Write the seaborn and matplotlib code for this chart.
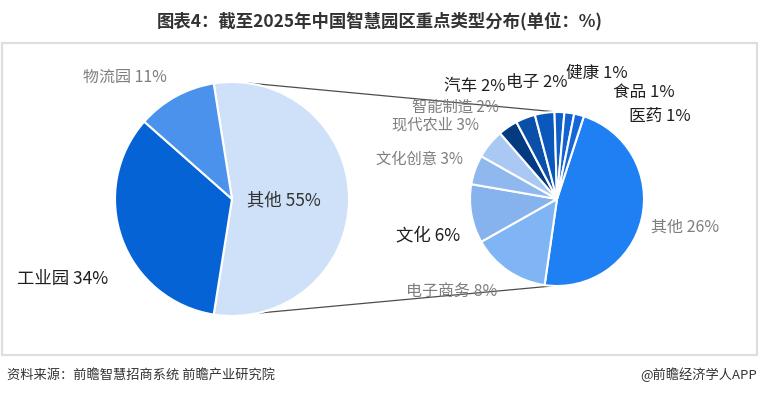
import numpy as np
import matplotlib
matplotlib.use("Agg")
import matplotlib.pyplot as plt
from matplotlib.patches import Rectangle
import seaborn as sns

# main pie: park types
main_labels = ["其他", "工业园", "物流园"]
main_values = [55, 34, 11]
main_colors = ["#cfe1f8", "#0563d6", "#4a92ec"]

# breakdown of "其他"
sub_labels = ["其他", "电子商务", "文化", "文化创意", "现代农业", "智能制造",
              "汽车", "电子", "健康", "食品", "医药"]
sub_values = [26, 8, 6, 3, 3, 2, 2, 2, 1, 1, 1]
sub_colors = ["#1f80f4", "#80b5f5", "#86b2ee", "#8fb8ee", "#a9c9f4", "#043a80",
              "#0a4fa8", "#0b58bd", "#0f5fcb", "#1163d1", "#1567d8"]

sns.set_theme(style="white")
plt.rcParams["font.family"] = ["Noto Sans CJK SC", "DejaVu Sans"]

W, H = 760, 396
fig = plt.figure(figsize=(W / 100, H / 100), dpi=100)
ax = fig.add_axes([0, 0, 1, 1])
ax.set_xlim(0, W)
ax.set_ylim(0, H)
ax.set_aspect("equal")
ax.axis("off")

def fy(y):
    # image row -> axis y
    return H - y

c1, r1 = (232, fy(199)), 117
c2, r2 = (557, fy(199)), 87

ax.pie(main_values, colors=main_colors, startangle=99, counterclock=False,
       center=c1, radius=r1, frame=True,
       wedgeprops=dict(edgecolor="white", linewidth=1.5))
ax.pie(sub_values, colors=sub_colors, startangle=72, counterclock=False,
       center=c2, radius=r2, frame=True,
       wedgeprops=dict(edgecolor="white", linewidth=1.5))
ax.set_xlim(0, W)
ax.set_ylim(0, H)
ax.axis("off")

# connector lines between the two pies
def on_circle(c, r, deg):
    t = np.deg2rad(deg)
    return c[0] + r * np.cos(t), c[1] + r * np.sin(t)

for a_left, a_right in [(83.6, 90), (-77.4, -92.6)]:
    p1 = on_circle(c1, r1, a_left)
    p2 = on_circle(c2, r2, a_right)
    ax.plot([p1[0], p2[0]], [p1[1], p2[1]], color="#4d4d4d", lw=0.9, zorder=0)

dark = "#1f1f1f"
gray = "#7f7f7f"

# left pie labels
ax.text(125, fy(77), "物流园 11%", color=gray, fontsize=11.5, ha="center", va="center")
ax.text(284, fy(200), "其他 55%", color="#333333", fontsize=12.5, ha="center", va="center")
ax.text(63, fy(279), "工业园 34%", color=dark, fontsize=12.5, ha="center", va="center")

# right pie labels
ax.text(475, fy(87), "汽车 2%", color=dark, fontsize=12, ha="center", va="center")
ax.text(537, fy(82), "电子 2%", color=dark, fontsize=12, ha="center", va="center")
ax.text(597, fy(73), "健康 1%", color=dark, fontsize=12, ha="center", va="center")
ax.text(644, fy(92), "食品 1%", color=dark, fontsize=12, ha="center", va="center")
ax.text(660, fy(116), "医药 1%", color=dark, fontsize=12, ha="center", va="center")
ax.text(455, fy(107), "智能制造 2%", color=gray, fontsize=11, ha="center", va="center")
ax.text(436, fy(125), "现代农业 3%", color=gray, fontsize=11, ha="center", va="center")
ax.text(420, fy(159), "文化创意 3%", color=gray, fontsize=11, ha="center", va="center")
ax.text(428, fy(235), "文化 6%", color=dark, fontsize=12.5, ha="center", va="center")
ax.text(685, fy(227), "其他 26%", color=gray, fontsize=11.5, ha="center", va="center")
ax.text(452, fy(291), "电子商务 8%", color=gray, fontsize=11.5, ha="center", va="center")

# frame around the chart area
fig.patches.append(Rectangle((1.5 / W, 1 - 355 / H), 755 / W, 312 / H,
                             transform=fig.transFigure, fill=False,
                             edgecolor="#dedede", linewidth=1.6))

fig.text(0.5, 1 - 21 / H, "图表4：截至2025年中国智慧园区重点类型分布(单位：%)",
         ha="center", va="center", fontsize=12.5, fontweight="bold", color="#333333")
fig.text(7 / W, 1 - 375 / H, "资料来源：前瞻智慧招商系统 前瞻产业研究院",
         ha="left", va="center", fontsize=9.5, color="#333333")
fig.text(757 / W, 1 - 375 / H, "@前瞻经济学人APP",
         ha="right", va="center", fontsize=9.5, color="#333333")

fig.savefig("out.png", dpi=100)
